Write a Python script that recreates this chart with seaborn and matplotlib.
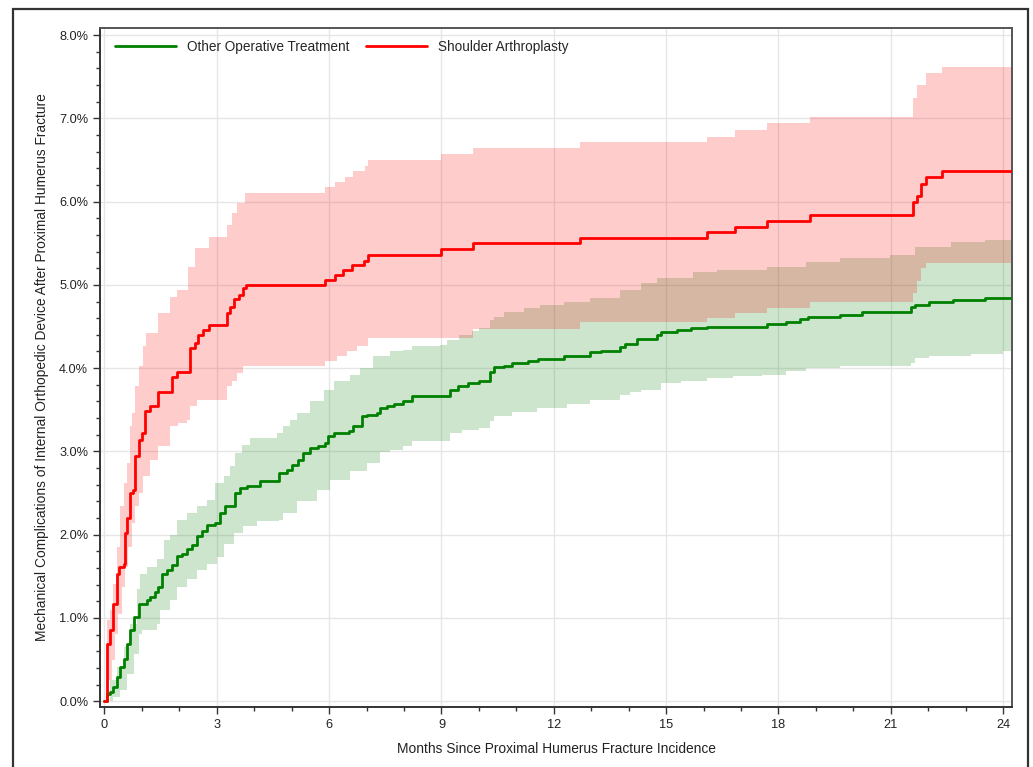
import numpy as np
import pandas as pd
import matplotlib
matplotlib.use("Agg")
import matplotlib.pyplot as plt
from matplotlib.ticker import MultipleLocator, FuncFormatter
from matplotlib.lines import Line2D
from matplotlib.patches import Rectangle
import seaborn as sns

groups = ["Other Operative Treatment", "Shoulder Arthroplasty"]
colors = {"Other Operative Treatment": "#008000", "Shoulder Arthroplasty": "#ff0000"}

# Other Operative Treatment: cumulative incidence (%) step points
oth_t = [0, 0.06, 0.15, 0.24, 0.33, 0.42, 0.51, 0.60, 0.69, 0.78, 0.91, 1.13, 1.22, 1.35, 1.44,
         1.53, 1.66, 1.80, 1.93, 2.06, 2.20, 2.33, 2.47, 2.60, 2.73, 2.95, 3.09, 3.22, 3.49, 3.62,
         3.80, 4.16, 4.65, 4.87, 5.00, 5.18, 5.31, 5.49, 5.71, 5.89, 5.98, 6.12, 6.52, 6.65, 6.87,
         7.00, 7.27, 7.36, 7.54, 7.72, 7.98, 8.22, 9.24, 9.45, 9.72, 10.00, 10.29, 10.40, 10.67,
         10.89, 11.32, 11.58, 12.28, 12.98, 13.25, 13.78, 13.89, 14.21, 14.75, 14.86, 15.29, 15.66,
         16.10, 17.70, 18.19, 18.57, 18.78, 19.65, 20.24, 21.53, 21.64, 22.01, 22.66, 23.52]
oth_v = [0, 0.09, 0.11, 0.17, 0.29, 0.41, 0.51, 0.69, 0.85, 1.01, 1.17, 1.22, 1.25, 1.31, 1.37,
         1.53, 1.57, 1.63, 1.74, 1.77, 1.83, 1.87, 1.98, 2.04, 2.12, 2.14, 2.26, 2.34, 2.50, 2.56,
         2.58, 2.64, 2.74, 2.78, 2.84, 2.90, 2.98, 3.04, 3.06, 3.10, 3.19, 3.22, 3.25, 3.31, 3.42,
         3.44, 3.46, 3.52, 3.54, 3.57, 3.60, 3.67, 3.74, 3.79, 3.82, 3.85, 3.95, 4.01, 4.03,
         4.06, 4.08, 4.11, 4.15, 4.19, 4.21, 4.25, 4.29, 4.35, 4.40, 4.43, 4.46, 4.48,
         4.50, 4.53, 4.56, 4.59, 4.61, 4.64, 4.67, 4.74, 4.76, 4.79, 4.82, 4.84]
oth_lo_t = [0, 0.24, 0.42, 0.60, 0.78, 0.91, 1.00, 1.40, 1.49, 1.75, 1.93, 2.20, 2.47, 2.73, 3.00,
            3.18, 3.45, 3.71, 4.07, 4.65, 4.78, 5.14, 5.67, 6.03, 6.56, 7.00, 7.36, 7.63, 7.98, 8.22,
            9.24, 9.56, 10.00, 10.29, 10.40, 10.89, 11.55, 12.36, 12.98, 13.78, 14.04, 14.32, 14.86,
            15.40, 16.10, 16.80, 17.55, 18.19, 18.73, 19.65, 21.53, 21.64, 22.01, 23.14, 24.00]
oth_lo = [0, 0.05, 0.13, 0.33, 0.57, 0.81, 0.85, 0.93, 1.09, 1.21, 1.37, 1.47, 1.57, 1.65, 1.73,
          1.89, 2.02, 2.10, 2.16, 2.18, 2.26, 2.40, 2.54, 2.66, 2.76, 2.86, 2.99, 3.02, 3.06, 3.12,
          3.22, 3.26, 3.28, 3.36, 3.42, 3.47, 3.52, 3.57, 3.62, 3.68, 3.71, 3.74, 3.82,
          3.84, 3.88, 3.90, 3.92, 3.96, 4.00, 4.03, 4.06, 4.12, 4.14, 4.17, 4.21]
oth_hi_t = [0, 0.15, 0.33, 0.51, 0.69, 0.86, 0.95, 1.13, 1.40, 1.58, 1.75, 1.93, 2.20, 2.47, 2.73,
            2.95, 3.18, 3.36, 3.49, 3.67, 3.89, 4.60, 4.78, 4.96, 5.14, 5.49, 5.85, 6.12, 6.56, 6.83,
            7.18, 7.63, 7.98, 8.22, 8.95, 9.16, 9.48, 9.81, 10.00, 10.29, 10.40, 10.67, 11.20, 11.63,
            12.28, 12.98, 13.78, 14.32, 14.75, 15.72, 16.37, 17.70, 18.73, 19.65, 20.99, 21.64,
            22.60, 23.52]
oth_hi = [0, 0.25, 0.41, 0.65, 0.93, 1.35, 1.53, 1.61, 1.71, 1.94, 2.00, 2.18, 2.26, 2.34, 2.42,
          2.62, 2.70, 2.82, 2.98, 3.08, 3.16, 3.22, 3.30, 3.38, 3.46, 3.60, 3.74, 3.84, 3.92, 4.00,
          4.14, 4.20, 4.22, 4.26, 4.28, 4.34, 4.40, 4.44, 4.48, 4.58, 4.62, 4.68, 4.72, 4.76,
          4.80, 4.84, 4.94, 5.02, 5.08, 5.15, 5.18, 5.22, 5.28, 5.32, 5.36, 5.46,
          5.51, 5.54]

# Shoulder Arthroplasty
sa_t = [0, 0.06, 0.15, 0.24, 0.33, 0.40, 0.51, 0.55, 0.60, 0.67, 0.76, 0.82, 0.91, 1.00, 1.09,
        1.22, 1.44, 1.80, 1.93, 2.29, 2.42, 2.51, 2.64, 2.78, 3.27, 3.36, 3.45, 3.58, 3.71, 3.78,
        5.89, 6.16, 6.38, 6.61, 6.92, 7.05, 9.00, 9.84, 12.69, 16.10, 16.85, 17.70, 18.84, 21.60,
        21.70, 21.80, 21.94, 22.37]
sa_v = [0, 0.69, 0.85, 1.17, 1.53, 1.61, 1.65, 2.02, 2.20, 2.50, 2.54, 2.94, 3.14, 3.22, 3.48,
        3.54, 3.71, 3.89, 3.95, 4.24, 4.30, 4.40, 4.46, 4.52, 4.66, 4.74, 4.83, 4.88, 4.96, 5.00,
        5.06, 5.12, 5.18, 5.24, 5.29, 5.36, 5.43, 5.50, 5.56, 5.63, 5.70, 5.77, 5.84, 5.99,
        6.07, 6.21, 6.29, 6.37]
sa_lo_t = [0, 0.10, 0.20, 0.28, 0.37, 0.46, 0.55, 0.64, 0.73, 0.82, 0.91, 1.04, 1.22, 1.44, 1.75,
           1.97, 2.20, 2.29, 2.47, 3.27, 3.40, 3.53, 3.71, 5.89, 6.20, 6.47, 6.74, 7.05, 9.84, 12.69,
           16.10, 16.85, 17.70, 18.84, 21.60, 21.70, 21.80, 21.94]
sa_lo = [0, 0.25, 0.49, 0.81, 1.05, 1.37, 1.61, 1.85, 2.14, 2.34, 2.50, 2.70, 2.90, 3.06, 3.30,
         3.34, 3.38, 3.54, 3.62, 3.78, 3.84, 3.94, 4.03, 4.08, 4.14, 4.20, 4.26, 4.36, 4.47, 4.55,
         4.60, 4.66, 4.72, 4.79, 4.90, 5.05, 5.20, 5.26]
sa_hi_t = [0, 0.06, 0.15, 0.24, 0.33, 0.42, 0.51, 0.60, 0.67, 0.73, 0.82, 0.93, 1.04, 1.11, 1.44,
           1.75, 1.93, 2.24, 2.42, 2.78, 3.27, 3.40, 3.53, 3.76, 5.90, 6.17, 6.43, 6.64, 6.97, 7.05,
           9.00, 9.84, 12.69, 16.10, 16.85, 17.70, 18.84, 21.60, 21.70, 21.94, 22.37]
sa_hi = [0, 0.97, 1.09, 1.41, 1.85, 2.34, 2.62, 2.86, 3.30, 3.46, 3.78, 4.02, 4.26, 4.42, 4.66,
         4.86, 4.94, 5.22, 5.44, 5.57, 5.72, 5.86, 5.98, 6.10, 6.17, 6.24, 6.30, 6.37, 6.43, 6.50,
         6.57, 6.64, 6.71, 6.78, 6.86, 6.94, 7.02, 7.25, 7.40, 7.55, 7.62]

t_end = 24.24

series = {
    "Other Operative Treatment": (oth_t, oth_v, oth_lo_t, oth_lo, oth_hi_t, oth_hi),
    "Shoulder Arthroplasty": (sa_t, sa_v, sa_lo_t, sa_lo, sa_hi_t, sa_hi),
}


def hold(t_src, v_src, grid):
    # value of a post-step function at each grid time
    idx = np.searchsorted(t_src, grid, side="right") - 1
    return np.asarray(v_src)[idx]


rows = []
for g in groups:
    t, v = series[g][0], series[g][1]
    for a, b in zip(t + [t_end], v + [v[-1]]):
        rows.append({"month": a, "pct": b, "group": g})
lines = pd.DataFrame(rows)

sns.set_style("white")
plt.rcParams["font.family"] = ["Liberation Sans", "DejaVu Sans"]

fig = plt.figure(figsize=(10.33, 7.67), dpi=100)
ax = fig.add_axes([0.0968, 0.0782, 0.8829, 0.8853])

for g in groups:
    _, _, lo_t, lo, hi_t, hi = series[g]
    grid = np.union1d(np.union1d(lo_t, hi_t), [t_end])
    ax.fill_between(grid, hold(lo_t, lo, grid), hold(hi_t, hi, grid), step="post",
                    color=colors[g], alpha=0.2, lw=0, zorder=1)

sns.lineplot(data=lines, x="month", y="pct", hue="group", hue_order=groups, palette=colors,
             estimator=None, drawstyle="steps-post", linewidth=2.0, legend=False, ax=ax, zorder=3)

ax.set_xlim(-0.12, 24.24)
ax.set_ylim(-0.07, 8.085)
ax.xaxis.set_major_locator(MultipleLocator(3))
ax.xaxis.set_minor_locator(MultipleLocator(1))
ax.yaxis.set_major_locator(MultipleLocator(1))
ax.yaxis.set_minor_locator(MultipleLocator(0.2))
ax.yaxis.set_major_formatter(FuncFormatter(lambda y, _: f"{y:.1f}%"))
ax.tick_params(which="major", direction="out", length=5, width=1, color="#333333",
               labelsize=9.2, labelcolor="#222222", left=True, bottom=True)
ax.tick_params(which="minor", direction="out", length=3, width=1, color="#333333",
               left=True, bottom=True)
ax.grid(True, which="major", color="#e6e6e6", lw=1)
ax.set_axisbelow(True)
for s in ax.spines.values():
    s.set_color("#555555")
    s.set_linewidth(1.4)
ax.spines["left"].set_color("#333333")
ax.spines["bottom"].set_color("#333333")

ax.set_xlabel("Months Since Proximal Humerus Fracture Incidence", fontsize=9.9, color="#222222",
              labelpad=8)
ax.set_ylabel("Mechanical Complications of Internal Orthopedic Device After Proximal Humerus Fracture",
              fontsize=9.9, color="#222222", labelpad=7)

handles = [Line2D([], [], color=colors[g], lw=2.0) for g in groups]
ax.legend(handles, groups, loc="upper left", ncol=2, frameon=False, fontsize=9.8,
          handlelength=4.5, handletextpad=0.8, columnspacing=1.2,
          borderaxespad=0.5, bbox_to_anchor=(0.003, 1.0))

fig.patches.append(Rectangle((0.0126, -0.01), 0.9824, 0.998, transform=fig.transFigure,
                             fill=False, edgecolor="#333333", lw=1.6))

fig.savefig("out.png", dpi=100)
